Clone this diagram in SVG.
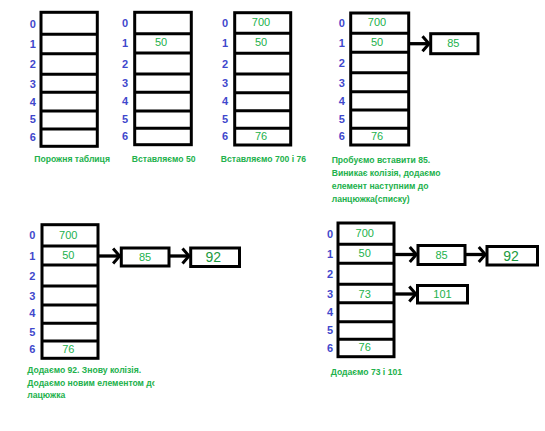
<svg xmlns="http://www.w3.org/2000/svg" width="545" height="431" viewBox="0 0 545 431">
<style>
.tb{fill:#fff;stroke:#000;stroke-width:3}
.ln{stroke:#000;stroke-width:3}
.idx{font-family:"Liberation Sans",Arial,sans-serif;font-size:11px;font-weight:bold;fill:#3f48cc;text-anchor:middle}
.val{font-family:"Liberation Sans",Arial,sans-serif;font-size:11px;fill:#22b14c;text-anchor:middle}
.big{font-family:"Liberation Sans",Arial,sans-serif;font-size:14px;fill:#1a9a40;text-anchor:middle}
.cap{font-family:"Liberation Sans",Arial,sans-serif;font-size:8.6px;font-weight:bold;fill:#22b14c}
.conn{stroke:#000;stroke-width:3.3;fill:none}
</style>
<defs>
<marker id="chev" markerUnits="userSpaceOnUse" markerWidth="12" markerHeight="20" refX="8" refY="9" orient="auto" viewBox="0 0 12 20">
<path d="M1.5,1.5 L8,9 L1.5,16.5" fill="none" stroke="#000" stroke-width="3"/>
</marker>
<clipPath id="clip5"><rect x="0" y="355" width="154.5" height="60"/></clipPath>
</defs>

<g id="table1">
<rect class="tb" x="41" y="12.3" width="56.3" height="134"/>
<path class="ln" d="M41,34.3H97.3M41,53.7H97.3M41,74.3H97.3M41,92.3H97.3M41,111H97.3M41,129H97.3"/>
<text class="idx" x="32.7" y="28">0</text><text class="idx" x="32.7" y="48">1</text><text class="idx" x="32.7" y="68">2</text><text class="idx" x="32.7" y="88">3</text><text class="idx" x="32.7" y="105.5">4</text><text class="idx" x="32.7" y="123">5</text><text class="idx" x="32.7" y="140.5">6</text>
<text class="cap" x="34.3" y="161.5">Порожня таблиця</text>
</g>

<g id="table2">
<rect class="tb" x="134.7" y="12.3" width="56.6" height="132.4"/>
<path class="ln" d="M134.7,33.7H191.3M134.7,53H191.3M134.7,74H191.3M134.7,92.3H191.3M134.7,111H191.3M134.7,128.3H191.3"/>
<text class="idx" x="125" y="27">0</text><text class="idx" x="125" y="47">1</text><text class="idx" x="125" y="67.5">2</text><text class="idx" x="125" y="87">3</text><text class="idx" x="125" y="105">4</text><text class="idx" x="125" y="123">5</text><text class="idx" x="125" y="140">6</text>
<text class="val" x="161" y="46">50</text>
<text class="cap" x="131.7" y="161.5">Вставляємо 50</text>
</g>

<g id="table3">
<rect class="tb" x="234.7" y="12.7" width="56" height="132.3"/>
<path class="ln" d="M234.7,33.3H290.7M234.7,53.3H290.7M234.7,74H290.7M234.7,92.7H290.7M234.7,110.7H290.7M234.7,128.3H290.7"/>
<text class="idx" x="225" y="27">0</text><text class="idx" x="225" y="47">1</text><text class="idx" x="225" y="67.5">2</text><text class="idx" x="225" y="87">3</text><text class="idx" x="225" y="105">4</text><text class="idx" x="225" y="123">5</text><text class="idx" x="225" y="140">6</text>
<text class="val" x="261" y="25.5">700</text>
<text class="val" x="261" y="46">50</text>
<text class="val" x="261" y="140">76</text>
<text class="cap" x="220.7" y="162">Вставляємо 700 і 76</text>
</g>

<g id="table4">
<rect class="tb" x="350.7" y="13" width="58" height="132"/>
<path class="ln" d="M350.7,33.3H408.7M350.7,52.3H408.7M350.7,72.7H408.7M350.7,91.7H408.7M350.7,110H408.7M350.7,128.3H408.7"/>
<text class="idx" x="341.7" y="27">0</text><text class="idx" x="341.7" y="47">1</text><text class="idx" x="341.7" y="67">2</text><text class="idx" x="341.7" y="86.5">3</text><text class="idx" x="341.7" y="104.5">4</text><text class="idx" x="341.7" y="122.5">5</text><text class="idx" x="341.7" y="140">6</text>
<text class="val" x="377" y="25.5">700</text>
<text class="val" x="377" y="45.5">50</text>
<text class="val" x="377" y="140">76</text>
<text class="cap" x="331.7" y="162.6">Пробуємо вставити 85.</text>
<text class="cap" x="331.7" y="176">Виникає колізія, додаємо</text>
<text class="cap" x="331.7" y="189">елемент наступним до</text>
<text class="cap" x="331.7" y="201.5">ланцюжка(списку)</text>
</g>
<g id="node4_85">
<rect class="tb" x="430.7" y="33.7" width="47.3" height="20"/>
<text class="val" x="453.3" y="47.3">85</text>
</g>

<g id="table5">
<rect class="tb" x="42" y="224.7" width="56" height="133.6"/>
<path class="ln" d="M42,246H98M42,265H98M42,286H98M42,305H98M42,323.3H98M42,341H98"/>
<text class="idx" x="32.3" y="239">0</text><text class="idx" x="32.3" y="260">1</text><text class="idx" x="32.3" y="280">2</text><text class="idx" x="32.3" y="300">3</text><text class="idx" x="32.3" y="317.3">4</text><text class="idx" x="32.3" y="335.7">5</text><text class="idx" x="32.3" y="353.3">6</text>
<text class="val" x="68.3" y="239">700</text>
<text class="val" x="68.3" y="259">50</text>
<text class="val" x="68.3" y="353">76</text>
<g clip-path="url(#clip5)">
<text class="cap" x="27.3" y="372.5">Додаємо 92. Знову колізія.</text>
<text class="cap" x="27.3" y="385.5">Додаємо новим елементом до</text>
<text class="cap" x="27.3" y="398">лацюжка</text>
</g>
</g>
<g id="node5_85">
<rect class="tb" x="121.3" y="248" width="47.7" height="18"/>
<text class="val" x="145" y="261">85</text>
</g>
<g id="node5_92">
<rect class="tb" x="190.7" y="248" width="48.8" height="18.5"/>
<text class="big" x="213.3" y="262">92</text>
</g>

<g id="table6">
<rect class="tb" x="338" y="223" width="56" height="133.7"/>
<path class="ln" d="M338,244.3H394M338,263.3H394M338,284.2H394M338,302.7H394M338,321.7H394M338,339.3H394"/>
<text class="idx" x="330" y="238">0</text><text class="idx" x="330" y="258">1</text><text class="idx" x="330" y="278">2</text><text class="idx" x="330" y="298">3</text><text class="idx" x="330" y="315.5">4</text><text class="idx" x="330" y="333.5">5</text><text class="idx" x="330" y="351.5">6</text>
<text class="val" x="364.7" y="237">700</text>
<text class="val" x="364.7" y="257">50</text>
<text class="val" x="364.7" y="297.5">73</text>
<text class="val" x="364.7" y="351">76</text>
<text class="cap" x="330.7" y="375">Додаємо 73 і 101</text>
</g>
<g id="node6_85">
<rect class="tb" x="418" y="245.5" width="47" height="19"/>
<text class="val" x="441.5" y="258.5">85</text>
</g>
<g id="node6_92">
<rect class="tb" x="487" y="246.5" width="50.5" height="18.5"/>
<text class="big" x="511" y="261">92</text>
</g>
<g id="node6_101">
<rect class="tb" x="417.5" y="285.5" width="50" height="17.5"/>
<text class="val" x="442.5" y="297.5">101</text>
</g>

<g id="connectors">
<path class="conn" d="M408.7,43.7H429" marker-end="url(#chev)"/>
<path class="conn" d="M98,256H119.6" marker-end="url(#chev)"/>
<path class="conn" d="M169,256H189" marker-end="url(#chev)"/>
<path class="conn" d="M394,254.5H416.3" marker-end="url(#chev)"/>
<path class="conn" d="M465,254.5H485.3" marker-end="url(#chev)"/>
<path class="conn" d="M394,294H415.8" marker-end="url(#chev)"/>
</g>
</svg>
